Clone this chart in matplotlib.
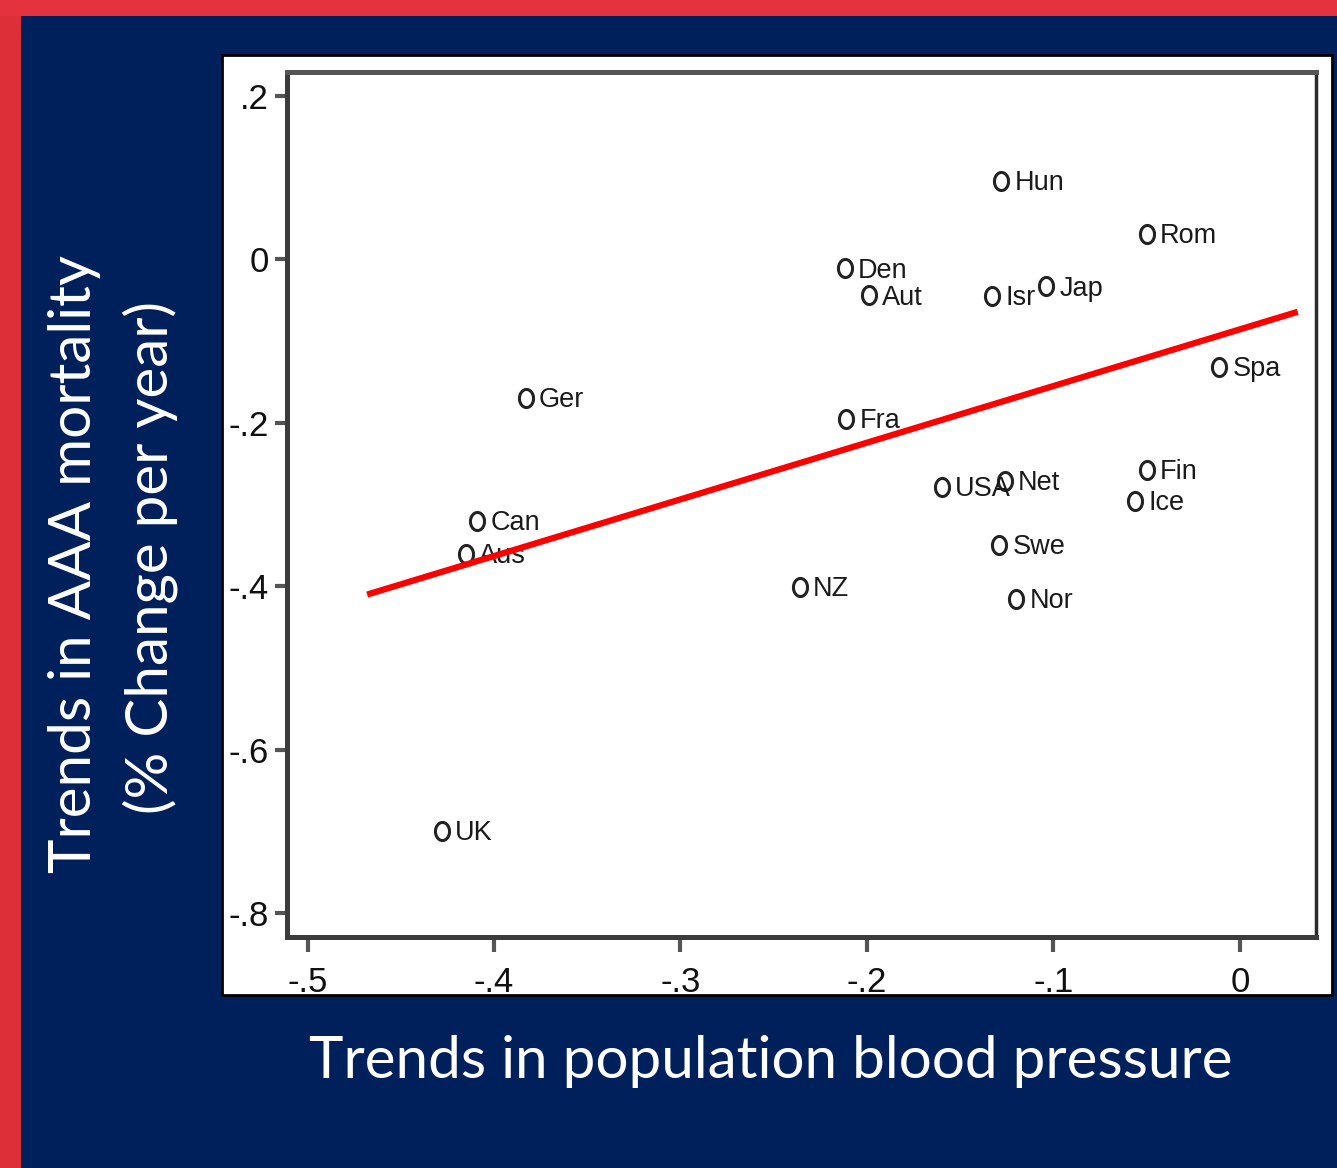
import matplotlib
matplotlib.use("Agg")
import matplotlib.pyplot as plt
import numpy as np
from matplotlib.patches import Rectangle
from matplotlib.path import Path
from matplotlib import font_manager

# ---------------- data ----------------
countries = ["Hun", "Rom", "Den", "Aut", "Isr", "Jap", "Spa", "Ger", "Fra", "USA",
             "Net", "Fin", "Ice", "Can", "Aus", "Swe", "NZ", "Nor", "UK"]
bp_trend = [-0.128, -0.050, -0.212, -0.199, -0.133, -0.104, -0.011, -0.383, -0.211, -0.160,
            -0.126, -0.050, -0.056, -0.409, -0.415, -0.129, -0.236, -0.120, -0.428]
aaa_trend = [0.096, 0.031, -0.011, -0.044, -0.045, -0.033, -0.132, -0.169, -0.195, -0.278,
             -0.271, -0.258, -0.296, -0.320, -0.360, -0.349, -0.401, -0.415, -0.699]
fit_x = [-0.468, 0.031]
fit_y = [-0.410, -0.064]
xticks = [-0.5, -0.4, -0.3, -0.2, -0.1, 0.0]
xticklabels = ["-.5", "-.4", "-.3", "-.2", "-.1", "0"]
yticks = [0.2, 0.0, -0.2, -0.4, -0.6, -0.8]
yticklabels = [".2", "0", "-.2", "-.4", "-.6", "-.8"]
xlabel = "Trends in population blood pressure"
ylabel1 = "Trends in AAA mortality"
ylabel2 = "(% Change per year)"

# ---------------- fonts ----------------
avail = {f.name for f in font_manager.fontManager.ttflist}
narrow = "Liberation Sans Narrow" if "Liberation Sans Narrow" in avail else "Liberation Sans"
title_font = "Lato" if "Lato" in avail else "DejaVu Sans"

W, H = 1337, 1168
fig = plt.figure(figsize=(W / 100, H / 100), dpi=100)
navy = "#00205c"
fig.patch.set_facecolor(navy)

def fx(px):
    return px / W

def fy(py):
    return 1 - py / H

# red border strips
fig.patches.append(Rectangle((0, 0), fx(21), 1, transform=fig.transFigure,
                             facecolor="#dc3038", edgecolor="none", zorder=0))
fig.patches.append(Rectangle((0, fy(16)), 1, 16 / H, transform=fig.transFigure,
                             facecolor="#e4333e", edgecolor="none", zorder=0))
# white chart box
fig.patches.append(Rectangle((fx(222), fy(995)), fx(1332 - 222), (995 - 55) / H,
                             transform=fig.transFigure, facecolor="white",
                             edgecolor="black", linewidth=2, zorder=1))

ax = fig.add_axes([fx(287), fy(937), fx(1316 - 287), (937 - 72) / H])
ax.set_zorder(2)
ax.set_facecolor("white")
ax.set_xlim(-0.511, 0.0408)
ax.set_ylim(-0.829, 0.2294)

for side in ["left", "bottom", "top", "right"]:
    ax.spines[side].set_linewidth(3.6)
    ax.spines[side].set_color("#3c3c3c")
ax.spines["top"].set_color("#555555")
ax.spines["right"].set_color("#2a2a2a")
ax.spines["right"].set_linewidth(2.5)

# ellipse marker (taller than wide)
t = np.linspace(0, 2 * np.pi, 60)
ell = Path(np.column_stack([0.78 * np.cos(t), np.sin(t)]))

ax.plot(bp_trend, aaa_trend, linestyle="none", marker=ell, markersize=13,
        markerfacecolor="none", markeredgecolor="#222222", markeredgewidth=2.2, zorder=3)

for name, x, y in zip(countries, bp_trend, aaa_trend):
    ax.annotate(name, (x, y), xytext=(9.5, -1.5), textcoords="offset points",
                ha="left", va="center", fontsize=19.5, family=narrow, color="#1a1a1a",
                zorder=3)

ax.plot(fit_x, fit_y, color="#ff0000", linewidth=4.5, solid_capstyle="butt", zorder=4)

ax.set_xticks(xticks)
ax.set_xticklabels(xticklabels)
ax.set_yticks(yticks)
ax.set_yticklabels(yticklabels)
ax.tick_params(axis="x", direction="out", length=11, width=3, color="#555555",
               pad=10, labelsize=25)
ax.tick_params(axis="y", direction="out", length=9, width=3, color="#555555",
               pad=4, labelsize=25)
for lab in ax.get_xticklabels() + ax.get_yticklabels():
    lab.set_family(narrow)
    lab.set_color("#111111")

fig.text(fx(771), fy(1062), xlabel, color="white", fontsize=42, family=title_font,
         ha="center", va="center")
fig.text(fx(75), fy(564), ylabel1, color="white", fontsize=42, family=title_font,
         ha="center", va="center", rotation=90)
fig.text(fx(150), fy(557), ylabel2, color="white", fontsize=42, family=title_font,
         ha="center", va="center", rotation=90)

fig.savefig("out.png", dpi=100, facecolor=fig.get_facecolor())
